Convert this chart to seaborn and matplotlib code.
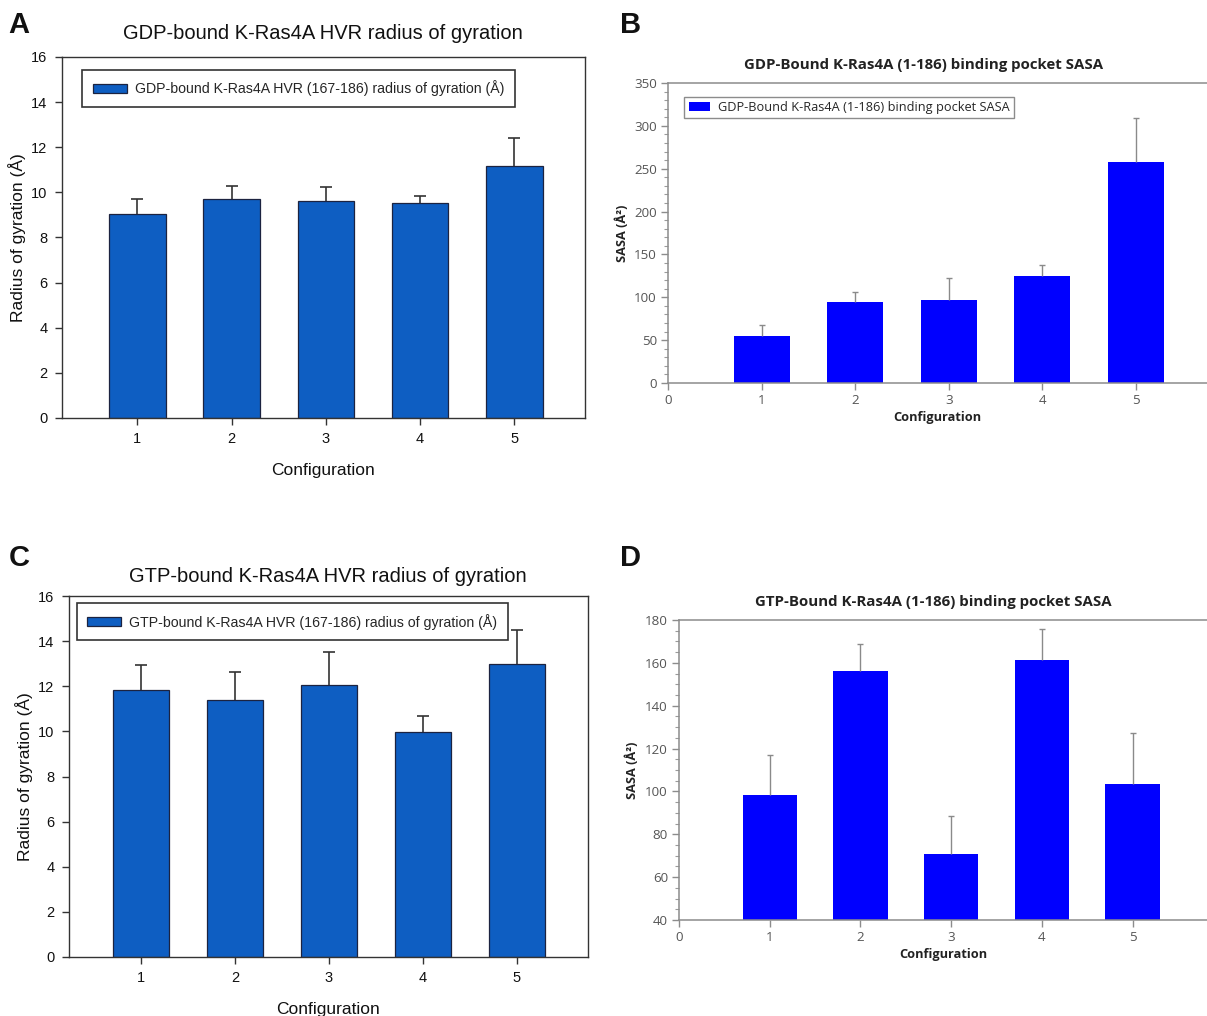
import numpy as np
import matplotlib
matplotlib.use("Agg")
import matplotlib.pyplot as plt
from matplotlib.ticker import MultipleLocator
import seaborn as sns

# ---- data -------------------------------------------------------------
configs = [1, 2, 3, 4, 5]

gdp_rg = [9.04, 9.69, 9.63, 9.54, 11.19]
gdp_rg_err = [0.65, 0.59, 0.59, 0.31, 1.23]

gtp_rg = [11.84, 11.37, 12.07, 9.98, 12.97]
gtp_rg_err = [1.08, 1.26, 1.45, 0.72, 1.52]

gdp_sasa = [55.2, 94.9, 96.9, 125.2, 257.5]
gdp_sasa_err = [12.1, 11.3, 26.0, 12.5, 52.1]

gtp_sasa = [98.2, 156.4, 70.6, 161.2, 103.6]
gtp_sasa_err = [18.6, 12.4, 18.1, 14.8, 23.8]

# ---- style ------------------------------------------------------------
sns.set_style("ticks")
plt.rcParams["font.family"] = ["Liberation Sans", "DejaVu Sans"]

W, H = 1207, 1016
fig = plt.figure(figsize=(W / 100, H / 100), dpi=100)


def px_axes(left, right, top, bottom):
    return fig.add_axes([left / W, 1 - bottom / H, (right - left) / W, (bottom - top) / H])


RG_BLUE = "#0E5EC2"
SASA_BLUE = "#0000FF"


def upper_errorbars(ax, vals, errs, **kw):
    """One-sided (upward) error bars with a cap only at the top end."""
    eb = ax.errorbar(configs, vals, yerr=[np.zeros(len(vals)), errs], fmt="none", **kw)
    caplines = eb[1]
    if len(caplines) == 2:
        caplines[0].set_visible(False)
    return eb


def rg_panel(ax, vals, errs, title, legend_label, xlim, legend_anchor, title_pad):
    sns.barplot(x=configs, y=vals, native_scale=True, width=0.6, color=RG_BLUE,
                saturation=1, edgecolor="#1c2340", linewidth=0.9, errorbar=None,
                label=legend_label, ax=ax)
    upper_errorbars(ax, vals, errs, ecolor="#333333", elinewidth=1.2,
                    capsize=4.5, capthick=1.2)
    ax.set_xlim(*xlim)
    ax.set_ylim(0, 16)
    ax.set_yticks(np.arange(0, 17, 2))
    ax.set_xticks(configs)
    ax.set_xticklabels([str(c) for c in configs])
    for s in ax.spines.values():
        s.set_visible(True)
        s.set_color("#333333")
        s.set_linewidth(1.0)
    ax.tick_params(direction="out", length=5, width=1, color="#333333",
                   labelsize=10.5, labelcolor="#111111", pad=5)
    ax.set_xlabel("Configuration", fontsize=12.5, color="#111111", labelpad=12)
    ax.set_ylabel("Radius of gyration (Å)", fontsize=12.5, color="#111111", labelpad=4)
    ax.set_title(title, fontsize=14.5, color="#111111", pad=title_pad)
    leg = ax.legend(loc="upper left", bbox_to_anchor=legend_anchor, fontsize=10.2,
                    frameon=True, fancybox=False, framealpha=1, edgecolor="#333333",
                    handlelength=2.4, handleheight=0.6, handletextpad=0.55,
                    borderpad=0.75, borderaxespad=0)
    leg.get_frame().set_linewidth(1.2)


def sasa_panel(ax, vals, errs, title, ylim, ystep, minor, xmax, title_x, legend_label=None):
    font = ["Open Sans", "DejaVu Sans"]
    sns.barplot(x=configs, y=vals, native_scale=True, width=0.6, color=SASA_BLUE,
                saturation=1, linewidth=0, errorbar=None,
                label=legend_label, ax=ax)
    upper_errorbars(ax, vals, errs, ecolor="#8a8a8a", elinewidth=1.0,
                    capsize=2.5, capthick=1.0)
    ax.set_xlim(0, xmax)
    ax.set_ylim(*ylim)
    ax.set_yticks(np.arange(ylim[0], ylim[1] + 1, ystep))
    ax.yaxis.set_minor_locator(MultipleLocator(minor))
    ax.set_xticks(range(0, 6))
    ax.set_xticklabels([str(i) for i in range(0, 6)])
    for s in ax.spines.values():
        s.set_color("#8c8c8c")
        s.set_linewidth(1.1)
    ax.spines["right"].set_visible(False)
    ax.tick_params(axis="both", which="major", direction="out", length=5, width=1,
                   color="#8c8c8c", labelsize=9.6, labelcolor="#555555", pad=3)
    ax.tick_params(axis="y", which="minor", direction="out", length=3, width=0.8,
                   color="#9a9a9a")
    for lab in ax.get_xticklabels() + ax.get_yticklabels():
        lab.set_family(font)
    ax.set_xlabel("Configuration", fontsize=9.2, fontweight="bold", color="#222222",
                  family=font, labelpad=3)
    ax.set_ylabel("SASA (Å²)", fontsize=9.2, fontweight="bold", color="#222222",
                  family=font, labelpad=4)
    ax.set_title(title, fontsize=10.8, fontweight="bold", color="#222222",
                 family=font, x=title_x, pad=10)
    if legend_label is not None:
        leg = ax.legend(loc="upper left", bbox_to_anchor=(0.03, 0.955),
                        frameon=True, fancybox=False, framealpha=1, edgecolor="#8c8c8c",
                        handlelength=1.7, handleheight=0.75, handletextpad=0.6,
                        borderpad=0.35, borderaxespad=0,
                        prop={"family": font, "size": 9.2})
        leg.get_frame().set_linewidth(1.0)


# ---- panels -----------------------------------------------------------
axA = px_axes(61.5, 585, 57, 418)
rg_panel(axA, gdp_rg, gdp_rg_err, "GDP-bound K-Ras4A HVR radius of gyration",
         "GDP-bound K-Ras4A HVR (167-186) radius of gyration (Å)",
         (0.195, 5.75), (0.04, 0.965), 13)

axC = px_axes(68.5, 588, 596, 957)
rg_panel(axC, gtp_rg, gtp_rg_err, "GTP-bound K-Ras4A HVR radius of gyration",
         "GTP-bound K-Ras4A HVR (167-186) radius of gyration (Å)",
         (0.227, 5.757), (0.016, 0.98), 10)

axB = px_axes(668, 1207, 83, 383)
sasa_panel(axB, gdp_sasa, gdp_sasa_err, "GDP-Bound K-Ras4A (1-186) binding pocket SASA",
           (0, 350), 50, 10, 5.76, 0.475,
           legend_label="GDP-Bound K-Ras4A (1-186) binding pocket SASA")

axD = px_axes(679, 1207, 620, 920)
sasa_panel(axD, gtp_sasa, gtp_sasa_err, "GTP-Bound K-Ras4A (1-186) binding pocket SASA",
           (40, 180), 20, 5, 5.82, 0.482)

# panel letters
for letter, x, y in [("A", 19, 25), ("B", 631, 25), ("C", 19, 558), ("D", 631, 558)]:
    fig.text(x / W, 1 - y / H, letter, fontsize=21, fontweight="bold",
             ha="center", va="center", color="#111111")

fig.savefig("out.png", dpi=100)
